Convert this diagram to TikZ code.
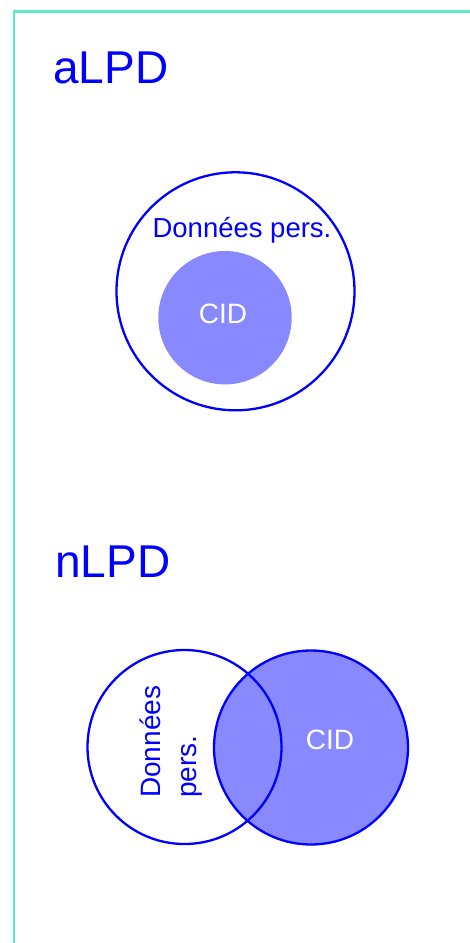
\documentclass[tikz,border=0pt]{standalone}
\usepackage{fontspec}
\setmainfont{Liberation Sans}
\definecolor{frameMint}{HTML}{5FEAC5}
\definecolor{setBlue}{HTML}{0000FF}
\definecolor{setFill}{HTML}{8888FF}
\begin{document}
\begin{tikzpicture}[x=1pt,y=-1pt,
  title/.style={text=setBlue,font=\fontsize{46}{55}\selectfont,inner sep=0pt,anchor=base west},
  setlabel/.style={text=setBlue,font=\fontsize{27.5}{33}\selectfont,inner sep=0pt,anchor=base},
  vlabel/.style={text=setBlue,font=\fontsize{28}{33}\selectfont,inner sep=0pt,anchor=base west,rotate=90},
  cidlabel/.style={text=white,font=\fontsize{28}{33}\selectfont,inner sep=0pt,anchor=base},
  ring/.style={circle,draw=setBlue,line width=2.3pt,inner sep=0pt},
  disc/.style={circle,fill=setFill,inner sep=0pt}]
\useasboundingbox (0,0) rectangle (469,943);
% panel frame (open to the right and bottom)
\draw[frameMint,line width=2.6pt] (13.8,950) -- (13.8,11.5) -- (480,11.5);

% aLPD: CID inside personal data
\node[title] (tA) at (53,83) {aLPD};
\node[ring,minimum size=238pt] (persA) at (235.5,291.3) {};
\node[disc,minimum size=133.4pt] (cidA) at (225,317.7) {};
\node[setlabel] (lpersA) at (242,237.5) {Données pers.};
\node[cidlabel] (lcidA) at (223,323.3) {CID};

% nLPD: overlapping sets
\node[title] (tN) at (55,577) {nLPD};
\node[disc,minimum size=194pt] (cidNfill) at (311,747.5) {};
\node[ring,minimum size=194pt] (persN) at (184.5,747) {};
\node[ring,minimum size=194pt] (cidN) at (311,747.5) {};
\node[vlabel] (lpersN1) at (160,798) {Données};
\node[vlabel] (lpersN2) at (196.5,798) {pers.};
\node[cidlabel] (lcidN) at (330,749.3) {CID};
\end{tikzpicture}
\end{document}
